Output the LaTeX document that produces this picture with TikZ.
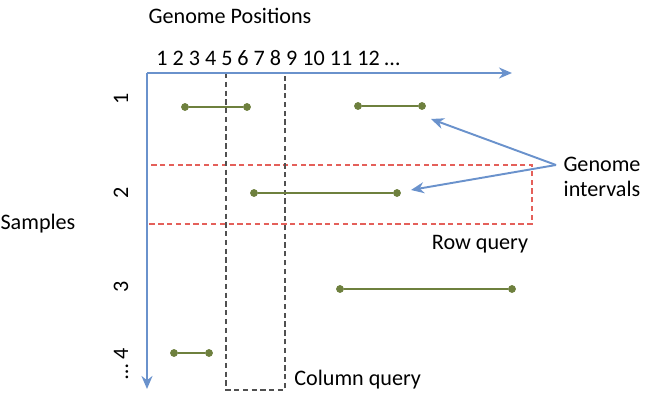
\documentclass[tikz,border=0pt]{standalone}
\usepackage{fontspec}
\setmainfont{Carlito}
\usetikzlibrary{positioning}
\usetikzlibrary{arrows.meta}
\definecolor{axisblue}{RGB}{106,146,204}
\definecolor{ivgreen}{RGB}{110,128,62}
\definecolor{qred}{RGB}{228,96,90}
\definecolor{qgray}{RGB}{80,80,80}

\begin{document}
\begin{tikzpicture}
  [x=0.02cm,y=-0.02cm,font=\fontsize{12.6}{14.5}\selectfont,
  ivdot/.style={circle,draw=ivgreen,fill=ivgreen,inner sep=0pt,minimum size=1.4mm},
  axis/.style={axisblue,line width=1.3pt,-{Stealth[length=2.6mm,width=2.2mm]}},
  pointer/.style={axisblue,line width=1.1pt,-{Stealth[length=2.6mm,width=2.2mm]}},
  rowlbl/.style={rotate=90,inner sep=0pt}]
  \useasboundingbox (0,0) rectangle (650,401);

  % queries
  \draw [qred,dash pattern=on 3pt off 2pt,line width=0.8pt] (147,165) rectangle (532,224);
  \draw [qgray,dash pattern=on 3pt off 2pt,line width=0.8pt] (226,73) rectangle (285,390);

  % axes
  \coordinate (origin) at (147,73);
  \coordinate (xend) at (512,73);
  \coordinate (yend) at (147,389);
  \draw [axis] (origin) -- (xend);
  \draw [axis] (origin) -- (yend);

  % labels
  \node (title) at (230,16) {Genome Positions};
  \node[anchor=west,inner sep=0pt] (positions) at (156,58) {1 2 3 4 5 6 7 8 9 10 11 12 \dots};
  \node (samples) at (38,224) {Samples};
  \node[rowlbl] (r1) at (121,99) {1};
  \node[rowlbl] (r2) at (121,193) {2};
  \node[rowlbl] (r3) at (121,287) {3};
  \node[rowlbl] (r4) at (121,364) {\dots\ 4};
  \node (rowq) at (480,244) {Row query};
  \node[anchor=west,inner sep=0pt] (colq) at (294,380) {Column query};
  \node[align=center] (gi) at (602,177) {Genome\\intervals};

  % intervals
  \node[ivdot] (a1) at (185,107) {};
  \node[ivdot] (a2) at (247,107) {};
  \node[ivdot] (b1) at (358,106) {};
  \node[ivdot] (b2) at (422,106) {};
  \node[ivdot] (c1) at (254,193) {};
  \node[ivdot] (c2) at (397,193) {};
  \node[ivdot] (d1) at (340,289) {};
  \node[ivdot] (d2) at (512,289) {};
  \node[ivdot] (e1) at (174,353) {};
  \node[ivdot] (e2) at (209,353) {};

  \draw [ivgreen,line width=1.6pt] (a1) -- (a2);
  \draw [ivgreen,line width=1.6pt] (b1) -- (b2);
  \draw [ivgreen,line width=1.6pt] (c1) -- (c2);
  \draw [ivgreen,line width=1.6pt] (d1) -- (d2);
  \draw [ivgreen,line width=1.6pt] (e1) -- (e2);

  % pointers
  \coordinate (gitip) at (556,165);
  \coordinate (ptr1) at (431,119);
  \coordinate (ptr2) at (411,190);
  \draw [pointer] (gitip) -- (ptr1);
  \draw [pointer] (gitip) -- (ptr2);

  \end{tikzpicture}
\end{document}
